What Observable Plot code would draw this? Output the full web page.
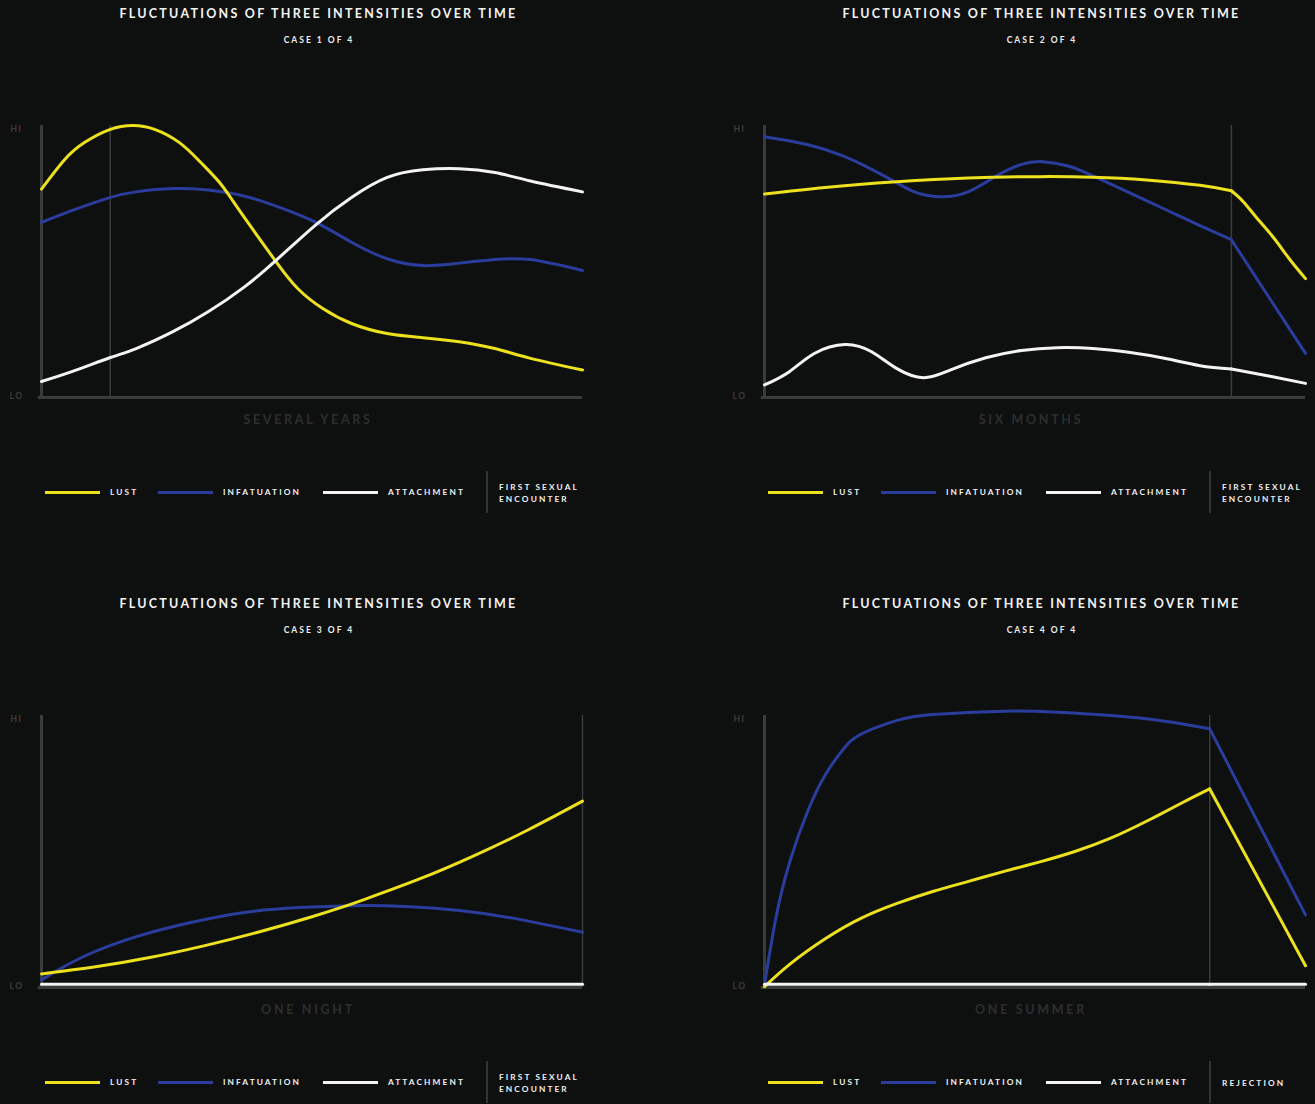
<!DOCTYPE html>
<html><head><meta charset="utf-8">
<script src="https://cdn.jsdelivr.net/npm/d3@7"></script>
<script src="https://cdn.jsdelivr.net/npm/@observablehq/plot@0.6"></script>
<style>
  html,body{margin:0;padding:0;}
  body{background:#0e1010;width:1315px;height:1104px;overflow:hidden;position:relative;font-family:Lato,"Open Sans",sans-serif;}
  .panel{position:absolute;width:657px;height:552px;}
  .title{position:absolute;left:0;width:637px;top:6px;text-align:center;color:#f2f2f2;font-weight:700;font-size:12.5px;letter-spacing:2.25px;line-height:16px;white-space:nowrap;}
  .sub{position:absolute;left:0;width:638px;top:35px;text-align:center;color:#eeeeee;font-weight:700;font-size:8.5px;letter-spacing:2px;line-height:10px;white-space:nowrap;}
  .chart{position:absolute;left:0;top:100px;}
  .sw{position:absolute;height:3px;width:55px;top:490.5px;}
  .lg{position:absolute;top:487px;line-height:10px;font-size:8.3px;font-weight:700;letter-spacing:2.1px;color:#f0f0f0;white-space:nowrap;}
  .sep{position:absolute;left:486px;top:471px;width:2px;height:42px;background:#333535;}
  .ev{position:absolute;left:499px;top:481px;line-height:12px;font-size:8.3px;font-weight:700;letter-spacing:2.1px;color:#f0f0f0;white-space:nowrap;}
</style>
</head><body>
<script>
// ---------- data ----------
const seriesNames = ["LUST", "INFATUATION", "ATTACHMENT"];
const seriesColors = ["#ece11c", "#2a3d9d", "#f3f3f3"];
const drawOrder = ["INFATUATION", "LUST", "ATTACHMENT"];
const chartTitle = "FLUCTUATIONS OF THREE INTENSITIES OVER TIME";
const caseLabels = ["CASE 1 OF 4", "CASE 2 OF 4", "CASE 3 OF 4", "CASE 4 OF 4"];
const xLabels = ["SEVERAL YEARS", "SIX MONTHS", "ONE NIGHT", "ONE SUMMER"];
const eventLabels = [["FIRST SEXUAL", "ENCOUNTER"], ["FIRST SEXUAL", "ENCOUNTER"], ["FIRST SEXUAL", "ENCOUNTER"], ["REJECTION"]];
const eventX = [12.7, 86.3, 100, 82.3];
const kinkAtEvent = [false, true, false, true];
const yTickLabels = ["HI", "LO"];

// [time (0-100), intensity (0 = LO, 100 = HI)]
const case1Lust = [[0,76.6],[4.3,87.5],[8,93.8],[12.6,98.5],[16.9,100],[20.9,98.6],[25.5,93.7],[29.5,86.3],[32.8,79.3],[35.4,72.2],[38.7,62.8],[43.4,49.8],[47.4,40],[52,32.7],[57.3,27.2],[63.9,23.5],[70.5,22],[77.2,20.5],[83.8,18],[90.4,14.4],[100,10.1]];
const case1Infatuation = [[0,64.4],[5.6,68.7],[12.6,73.5],[17.5,75.6],[24.2,76.8],[30.8,76.3],[37.4,74.1],[44,69.9],[50.7,64.4],[57.3,57.1],[63.9,51],[70.5,48.5],[77.2,49.4],[83.8,50.7],[90.4,50.7],[100,46.7]];
const case1Attachment = [[0,5.9],[5.6,9.5],[12.6,14.6],[17.5,18],[24.2,24.1],[30.8,31.5],[37.4,40.5],[43.4,50.5],[50.7,63.5],[57.3,73.5],[63.9,80.9],[70.5,83.7],[77.2,84.1],[83.8,82.7],[90.4,79.6],[100,75.6]];

const case2Lust = [[0,74.8],[11.2,77.2],[24.4,79.3],[37.6,80.7],[50.8,81.2],[60.7,81],[70.6,80],[80.5,78],[86.3,76],[88.5,72],[91,66],[94,59],[97,51],[100,43.7]];
const case2Infatuation = [[0,95.9],[7.9,93],[14.5,88.8],[19.8,83.9],[24.4,79],[27.7,75.6],[32.3,73.8],[37.6,75.6],[42.9,81.5],[47.5,85.7],[51.5,86.7],[56.1,85.1],[60.7,81.5],[67.3,75.4],[73.9,69.3],[80.5,63.2],[86.3,58],[100,16.2]];
const case2Attachment = [[0,4.6],[4.6,9.5],[9.2,16.2],[14.9,19.5],[19.8,16.8],[24.4,10.7],[29.4,7.3],[34.3,10.1],[40.9,14.6],[47.5,17.3],[54.1,18.3],[60.7,18],[67.3,16.6],[73.9,14.4],[80.5,11.7],[86.3,10.5],[93.7,7.7],[100,5.2]];

const case3Lust = [[0,5],[10,7.6],[20,11],[30,15.3],[40,20.3],[50,26],[56,29.8],[60,32.6],[70,40],[80,48.5],[90,58],[100,68.5]];
const case3Infatuation = [[0,2.8],[7.8,11.4],[17.7,18.8],[27.6,23.9],[37.5,27.6],[47.5,29.4],[57.4,30.1],[67.3,29.8],[77.2,28.3],[87.1,25.5],[100,20.3]];
const case3Attachment = [[0,1.2],[100,1.2]];

const case4Lust = [[0,0.3],[4.7,8.6],[11.3,18],[17.9,25.5],[24.5,30.9],[31.1,35.3],[37.7,39],[44.3,42.7],[50.9,46.2],[57.5,50.1],[64.1,55],[70.7,61.2],[77.3,68],[82.3,73],[100,8]];
const case4Infatuation = [[0,0.9],[2.1,25.5],[4.7,46.4],[8,64.9],[11.3,78.4],[14.6,87.7],[17.9,93.2],[24.5,98.2],[31.1,100.4],[44.3,101.6],[54.2,101.2],[64.1,100],[74,97.9],[82.3,95.1],[100,26.7]];
const case4Attachment = [[0,1.2],[82.3,1.2],[100,1.2]];

const cases = [
  {LUST: case1Lust, INFATUATION: case1Infatuation, ATTACHMENT: case1Attachment},
  {LUST: case2Lust, INFATUATION: case2Infatuation, ATTACHMENT: case2Attachment},
  {LUST: case3Lust, INFATUATION: case3Infatuation, ATTACHMENT: case3Attachment},
  {LUST: case4Lust, INFATUATION: case4Infatuation, ATTACHMENT: case4Attachment}
];

// ---------- layout ----------
const panelLeft = [0, 723, 0, 723];
const panelTop = [0, 0, 590, 590];
const AXIS = "#3a3b3b";

function buildRows(i) {
  const rows = [];
  const ev = eventX[i];
  for (const s of drawOrder) {
    for (const [x, y] of cases[i][s]) {
      if (kinkAtEvent[i]) {
        if (x <= ev) rows.push({series: s, key: s + "-a", x, y});
        if (x >= ev) rows.push({series: s, key: s + "-b", x, y});
      } else {
        rows.push({series: s, key: s, x, y});
      }
    }
  }
  return rows;
}

for (let i = 0; i < 4; i++) {
  const panel = document.createElement("div");
  panel.className = "panel";
  panel.style.left = panelLeft[i] + "px";
  panel.style.top = panelTop[i] + "px";
  document.body.appendChild(panel);

  const t = document.createElement("div"); t.className = "title"; t.textContent = chartTitle; panel.appendChild(t);
  const st = document.createElement("div"); st.className = "sub"; st.textContent = caseLabels[i]; panel.appendChild(st);

  const rows = buildRows(i);
  const svg = Plot.plot({
    width: 600, height: 340,
    marginLeft: 41, marginRight: 18, marginTop: 25, marginBottom: 43,
    x: {domain: [0, 100], axis: null},
    y: {domain: [0, 100], axis: null},
    color: {domain: seriesNames, range: seriesColors},
    style: {background: "transparent", fontFamily: "Lato, 'Open Sans', sans-serif", overflow: "visible"},
    marks: [
      Plot.ruleX([eventX[i]], {y1: 0, y2: 100, stroke: AXIS, strokeWidth: 1.5}),
      Plot.ruleX([0], {y1: 0, y2: 100, stroke: AXIS, strokeWidth: 3}),
      Plot.ruleY([0], {x1: -0.6, x2: 100, stroke: AXIS, strokeWidth: 3}),
      Plot.line(rows, {x: "x", y: "y", z: "key", stroke: "series", strokeWidth: 3, curve: "natural"}),
      Plot.text([yTickLabels[0]], {text: d => d, frameAnchor: "top-left", dx: -25, dy: 0, textAnchor: "middle", fill: "#3c3d3d", fontSize: 8.5, fontWeight: 700}),
      Plot.text([yTickLabels[1]], {text: d => d, frameAnchor: "bottom-left", dx: -25, dy: 1, textAnchor: "middle", fill: "#3c3d3d", fontSize: 8.5, fontWeight: 700}),
      Plot.text([xLabels[i]], {text: d => d, frameAnchor: "bottom", dx: -4, dy: 26, fill: "#2c2e2e", fontSize: 12.5, fontWeight: 700})
    ]
  });
  svg.classList.add("chart");
  d3.select(svg).selectAll("text").attr("letter-spacing", function() {
    return this.textContent === xLabels[i] ? "2.7px" : "1.5px";
  });
  panel.appendChild(svg);

  // legend
  const swX = [45, 158, 323], lgX = [110, 223, 388];
  seriesNames.forEach((s, k) => {
    const sw = document.createElement("div"); sw.className = "sw";
    sw.style.left = swX[k] + "px"; sw.style.background = seriesColors[k]; panel.appendChild(sw);
    const lg = document.createElement("div"); lg.className = "lg";
    lg.style.left = lgX[k] + "px"; lg.textContent = s; panel.appendChild(lg);
  });
  const sep = document.createElement("div"); sep.className = "sep"; panel.appendChild(sep);
  const ev = document.createElement("div"); ev.className = "ev";
  if (eventLabels[i].length === 1) ev.style.top = "487px";
  ev.innerHTML = eventLabels[i].join("<br>");
  panel.appendChild(ev);
}
</script>
</body></html>
